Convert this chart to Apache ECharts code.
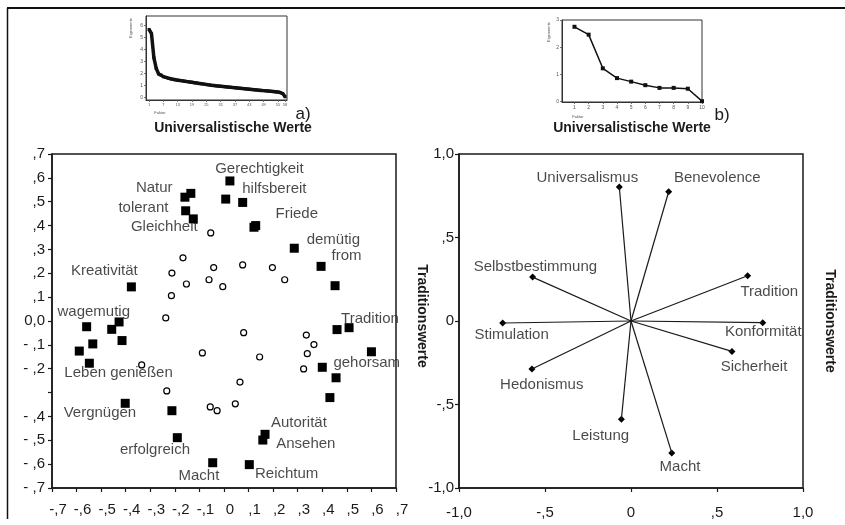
<!DOCTYPE html>
<html>
<head>
<meta charset="utf-8">
<script src="https://cdn.jsdelivr.net/npm/echarts@6/dist/echarts.min.js"></script>
<style>
  html, body { margin: 0; padding: 0; background: #fff; }
  #chart { width: 845px; height: 525px; }
</style>
</head>
<body>
<div id="chart"></div>
<script>
// --- data -------------------------------------------------------------
// a) Items (Ladungen) – Quadrate = markierte Items, Kreise = übrige Items
var itemSquares = [
  [-0.159, 0.519], [-0.135, 0.535], [-0.156, 0.462], [-0.125, 0.428],
  [0.024, 0.587], [0.007, 0.511], [0.076, 0.497], [0.122, 0.393], [0.129, 0.400],
  [0.286, 0.305], [0.395, 0.229], [0.452, 0.148], [-0.377, 0.143],
  [-0.559, -0.024], [-0.457, -0.035], [-0.427, -0.004], [0.460, -0.036], [0.509, -0.028],
  [-0.415, -0.082], [-0.534, -0.096], [-0.589, -0.126], [-0.548, -0.177],
  [-0.402, -0.345], [-0.212, -0.376], [-0.190, -0.489], [-0.046, -0.594],
  [0.103, -0.602], [0.167, -0.475], [0.158, -0.499], [0.600, -0.129],
  [0.400, -0.194], [0.456, -0.238], [0.431, -0.321]
];
var itemCircles = [
  [-0.054, 0.369], [-0.167, 0.265], [-0.212, 0.201], [-0.153, 0.155], [-0.042, 0.224],
  [-0.061, 0.173], [-0.005, 0.144], [0.076, 0.235], [0.197, 0.224], [0.247, 0.173],
  [-0.214, 0.106], [-0.237, 0.013], [0.080, -0.049], [0.335, -0.059], [0.366, -0.099],
  [0.339, -0.137], [0.324, -0.201], [0.145, -0.151], [-0.088, -0.134], [-0.335, -0.184],
  [-0.233, -0.293], [0.065, -0.256], [-0.056, -0.360], [-0.028, -0.376], [0.046, -0.347]
];
var itemNames = ['Gerechtigkeit', 'Natur', 'hilfsbereit', 'tolerant', 'Friede', 'Gleichheit',
  'demütig', 'from', 'Kreativität', 'wagemutig', 'Tradition', 'Leben genießen', 'gehorsam',
  'Vergnügen', 'Autorität', 'Ansehen', 'erfolgreich', 'Macht', 'Reichtum'];
var itemNamePos = [
  [0.144, 0.637], [-0.284, 0.560], [0.205, 0.552], [-0.328, 0.475], [0.296, 0.449],
  [-0.243, 0.393], [0.445, 0.340], [0.499, 0.273], [-0.487, 0.211], [-0.530, 0.039],
  [0.594, 0.008], [-0.429, -0.219], [0.581, -0.177], [-0.505, -0.383], [0.305, -0.429],
  [0.333, -0.517], [-0.281, -0.541], [-0.102, -0.650], [0.255, -0.642]
];

// b) Wertetypen
var valueNames = ['Universalismus', 'Benevolence', 'Selbstbestimmung', 'Tradition', 'Stimulation',
  'Konformität', 'Hedonismus', 'Sicherheit', 'Leistung', 'Macht'];
var valueLoadings = [
  [-0.068, 0.802], [0.219, 0.774], [-0.572, 0.263], [0.678, 0.271], [-0.746, -0.012],
  [0.766, -0.010], [-0.576, -0.287], [0.587, -0.182], [-0.056, -0.589], [0.237, -0.790]
];
var valueNamePos = [
  [-0.254, 0.86], [0.502, 0.86], [-0.556, 0.327], [0.804, 0.177], [-0.694, -0.082],
  [0.769, -0.068], [-0.519, -0.381], [0.715, -0.272], [-0.176, -0.687], [0.285, -0.871]
];

// Screeplots
var screeA = [5.65, 5.3, 3.3, 2.4, 1.95, 1.85, 1.72, 1.66, 1.6, 1.55, 1.5, 1.46, 1.43, 1.4,
  1.37, 1.34, 1.31, 1.28, 1.25, 1.22, 1.19, 1.16, 1.13, 1.1, 1.07, 1.04, 1.01, 0.99, 0.96,
  0.94, 0.92, 0.9, 0.88, 0.86, 0.84, 0.82, 0.8, 0.78, 0.76, 0.74, 0.72, 0.7, 0.68, 0.66,
  0.64, 0.62, 0.6, 0.58, 0.56, 0.54, 0.52, 0.5, 0.48, 0.46, 0.44, 0.4, 0.32, 0.05];
var screeB = [2.75, 2.46, 1.22, 0.86, 0.73, 0.6, 0.5, 0.5, 0.47, 0.01];
var screeATicks = [1, 7, 13, 19, 25, 31, 37, 43, 49, 55, 58];
var screeBTicks = [1, 2, 3, 4, 5, 6, 7, 8, 9, 10];

// Achsenbeschriftungen
var leftXLabels = ['-,7', '-,6', '-,5', '-,4', '-,3', '-,2', '-,1', '0', ',1', ',2', ',3', ',4', ',5', ',6', ',7'];
var leftYLabels = ['- ,7', '- ,6', '- ,5', '- ,4', '', '- ,2', '- ,1', '0,0', ',1', ',2', ',3', ',4', ',5', ',6', ',7'];
var rightLabels = ['-1,0', '-,5', '0', ',5', '1,0'];

// --- chart ------------------------------------------------------------
var FONT = 'Liberation Sans, Arial, sans-serif';
var INK = '#1a1a1a';
var chart = echarts.init(document.getElementById('chart'));

function mainAxis(idx, extra) {
  return Object.assign({
    type: 'value', gridIndex: idx, splitLine: { show: false },
    axisLine: { onZero: false, lineStyle: { color: INK, width: 1.5 } },
    axisTick: { length: 4, lineStyle: { color: INK, width: 1.2 } },
    axisLabel: { color: INK, fontSize: 15, fontFamily: FONT }
  }, extra);
}
function screeAxis(idx, extra) {
  return Object.assign({
    type: 'value', gridIndex: idx, splitLine: { show: false },
    axisLine: { onZero: false, lineStyle: { color: '#333', width: 1 } },
    axisTick: { length: 2, lineStyle: { color: '#555', width: 0.8 } },
    axisLabel: { color: '#555', fontSize: 5, margin: 3, fontFamily: FONT }
  }, extra);
}

var vectorSeries = valueLoadings.map(function (p) {
  return {
    type: 'line', xAxisIndex: 1, yAxisIndex: 1, data: [[0, 0], p],
    symbol: 'none', silent: true, lineStyle: { color: INK, width: 1.2 }
  };
});

var option = {
  backgroundColor: '#fff',
  animation: false,
  grid: [
    { left: 52, top: 154, width: 344, height: 334, show: true, borderColor: INK, borderWidth: 1.5 },
    { left: 459, top: 154, width: 344, height: 334, show: true, borderColor: INK, borderWidth: 1.5 },
    { left: 146, top: 16, width: 141, height: 84, show: true, borderColor: '#333', borderWidth: 1 },
    { left: 562, top: 20, width: 140, height: 82, show: true, borderColor: '#333', borderWidth: 1 }
  ],
  xAxis: [
    mainAxis(0, {
      min: -0.7, max: 0.7, interval: 0.1,
      axisLabel: { color: INK, fontSize: 15, fontFamily: FONT, margin: 14, padding: [0, 0, 0, 12],
        formatter: function (v) { return leftXLabels[Math.round(v * 10) + 7]; } }
    }),
    mainAxis(1, {
      min: -1, max: 1, interval: 0.5,
      axisLabel: { color: INK, fontSize: 15, fontFamily: FONT, margin: 17,
        formatter: function (v) { return rightLabels[Math.round(v * 2) + 2]; } }
    }),
    screeAxis(2, {
      min: -0.3, max: 58.8,
      axisTick: { length: 2, customValues: screeATicks, lineStyle: { color: '#555', width: 0.8 } },
      axisLabel: { color: '#555', fontSize: 4, margin: 3, customValues: screeATicks }
    }),
    screeAxis(3, {
      min: 0.12, max: 10,
      axisTick: { length: 2, customValues: screeBTicks, lineStyle: { color: '#555', width: 0.8 } },
      axisLabel: { color: '#555', fontSize: 5, margin: 3, customValues: screeBTicks }
    })
  ],
  yAxis: [
    mainAxis(0, {
      min: -0.7, max: 0.7, interval: 0.1,
      axisLabel: { color: INK, fontSize: 15, fontFamily: FONT, margin: 7,
        formatter: function (v) { return leftYLabels[Math.round(v * 10) + 7]; } }
    }),
    mainAxis(1, {
      min: -1, max: 1, interval: 0.5,
      axisLabel: { color: INK, fontSize: 15, fontFamily: FONT, margin: 5,
        formatter: function (v) { return rightLabels[Math.round(v * 2) + 2]; } }
    }),
    screeAxis(2, {
      min: -0.22, max: 6.77,
      axisTick: { length: 2, customValues: [0, 1, 2, 3, 4, 5, 6], lineStyle: { color: '#555', width: 0.8 } },
      axisLabel: { color: '#555', fontSize: 5, margin: 3, customValues: [0, 1, 2, 3, 4, 5, 6] }
    }),
    screeAxis(3, {
      min: -0.02, max: 3,
      axisTick: { length: 2, customValues: [0, 1, 2, 3], lineStyle: { color: '#555', width: 0.8 } },
      axisLabel: { color: '#555', fontSize: 5, margin: 3, customValues: [0, 1, 2, 3] }
    })
  ],
  series: [
    {
      type: 'scatter', xAxisIndex: 0, yAxisIndex: 0, data: itemCircles,
      symbol: 'circle', symbolSize: 6,
      itemStyle: { color: '#fff', borderColor: '#000', borderWidth: 1.2, opacity: 1 }
    },
    {
      type: 'scatter', xAxisIndex: 0, yAxisIndex: 0, data: itemSquares,
      symbol: 'rect', symbolSize: 9, itemStyle: { color: '#000', opacity: 1 }
    },
    {
      type: 'scatter', xAxisIndex: 0, yAxisIndex: 0, symbolSize: 0, silent: true,
      data: itemNames.map(function (n, i) { return { name: n, value: itemNamePos[i] }; }),
      label: { show: true, position: 'inside', formatter: '{b}', color: INK, fontSize: 15, fontFamily: FONT }
    }
  ].concat(vectorSeries).concat([
    {
      type: 'scatter', xAxisIndex: 1, yAxisIndex: 1, data: valueLoadings,
      symbol: 'diamond', symbolSize: 7, itemStyle: { color: '#000', opacity: 1 }
    },
    {
      type: 'scatter', xAxisIndex: 1, yAxisIndex: 1, symbolSize: 0, silent: true,
      data: valueNames.map(function (n, i) { return { name: n, value: valueNamePos[i] }; }),
      label: { show: true, position: 'inside', formatter: '{b}', color: INK, fontSize: 15, fontFamily: FONT }
    },
    {
      type: 'line', xAxisIndex: 2, yAxisIndex: 2,
      data: screeA.map(function (v, i) { return [i + 1, v]; }),
      symbol: 'rect', symbolSize: 3, itemStyle: { color: '#111' },
      lineStyle: { color: '#111', width: 3.5 }
    },
    {
      type: 'line', xAxisIndex: 3, yAxisIndex: 3,
      data: screeB.map(function (v, i) { return [i + 1, v]; }),
      symbol: 'rect', symbolSize: 4, itemStyle: { color: '#111' },
      lineStyle: { color: '#111', width: 1.5 }
    }
  ]),
  graphic: [
    { type: 'line', shape: { x1: 7, y1: 8, x2: 845, y2: 8 }, style: { stroke: '#111', lineWidth: 2 } },
    { type: 'line', shape: { x1: 7.5, y1: 8, x2: 7.5, y2: 519 }, style: { stroke: '#111', lineWidth: 1.5 } },
    { type: 'text', x: 303, y: 114, style: { text: 'a)', font: '17px ' + FONT, fill: INK, align: 'center', verticalAlign: 'middle' } },
    { type: 'text', x: 722, y: 115, style: { text: 'b)', font: '17px ' + FONT, fill: INK, align: 'center', verticalAlign: 'middle' } },
    { type: 'text', x: 233, y: 128, style: { text: 'Universalistische Werte', font: 'bold 14px ' + FONT, fill: INK, align: 'center', verticalAlign: 'middle' } },
    { type: 'text', x: 632, y: 128, style: { text: 'Universalistische Werte', font: 'bold 14px ' + FONT, fill: INK, align: 'center', verticalAlign: 'middle' } },
    { type: 'text', x: 422, y: 316, rotation: -Math.PI / 2, style: { text: 'Traditionswerte', font: 'bold 14px ' + FONT, fill: INK, align: 'center', verticalAlign: 'middle' } },
    { type: 'text', x: 830, y: 321, rotation: -Math.PI / 2, style: { text: 'Traditionswerte', font: 'bold 14px ' + FONT, fill: INK, align: 'center', verticalAlign: 'middle' } },
    { type: 'text', x: 131, y: 28, rotation: Math.PI / 2, style: { text: 'Eigenwerte', font: '4px ' + FONT, fill: '#555', align: 'center', verticalAlign: 'middle' } },
    { type: 'text', x: 549, y: 32, rotation: Math.PI / 2, style: { text: 'Eigenwerte', font: '4px ' + FONT, fill: '#555', align: 'center', verticalAlign: 'middle' } },
    { type: 'text', x: 160, y: 113, style: { text: 'Faktor', font: '4px ' + FONT, fill: '#555', align: 'center', verticalAlign: 'middle' } },
    { type: 'text', x: 578, y: 117, style: { text: 'Faktor', font: '4px ' + FONT, fill: '#555', align: 'center', verticalAlign: 'middle' } }
  ]
};

chart.setOption(option);
window.addEventListener('resize', function () { chart.resize(); });
</script>
</body>
</html>
